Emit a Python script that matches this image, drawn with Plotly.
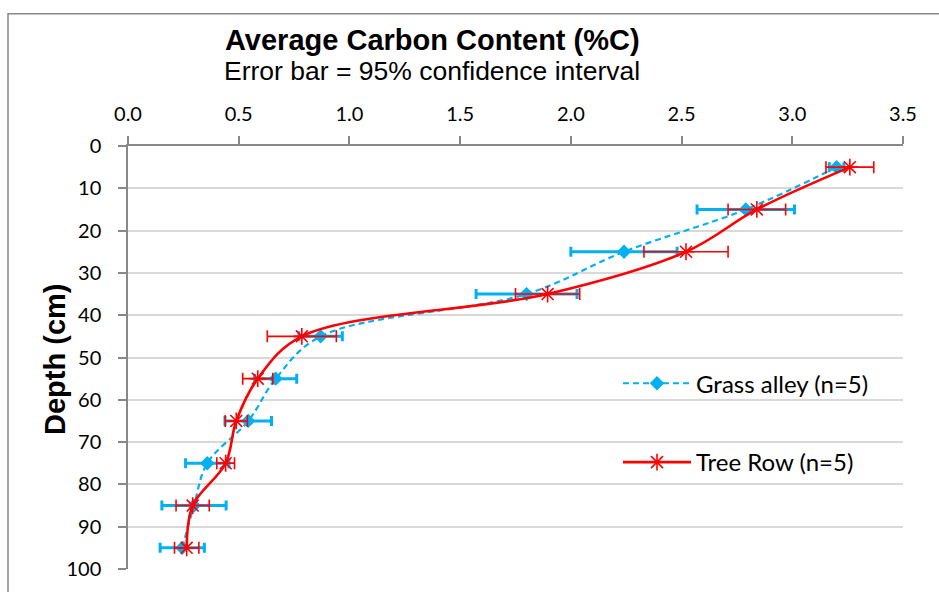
import plotly.graph_objects as go

# Sampling depths (cm, mid-point of each 10 cm layer)
depth = [5, 15, 25, 35, 45, 55, 65, 75, 85, 95]

# Grass alley: mean %C and 95% CI half-width
grass_c = [3.20, 2.79, 2.24, 1.80, 0.87, 0.667, 0.543, 0.358, 0.298, 0.245]
grass_ci = [0.033, 0.22, 0.24, 0.228, 0.098, 0.095, 0.105, 0.098, 0.145, 0.10]

# Tree row: mean %C and 95% CI half-width
tree_c = [3.26, 2.84, 2.52, 1.895, 0.785, 0.586, 0.489, 0.441, 0.292, 0.265]
tree_ci = [0.108, 0.13, 0.19, 0.145, 0.156, 0.068, 0.05, 0.04, 0.075, 0.055]

x_ticks = [0.0, 0.5, 1.0, 1.5, 2.0, 2.5, 3.0, 3.5]
y_ticks = list(range(0, 101, 10))

BLUE = "#00B0F0"
RED = "#FF0000"
GRID = "#D9D9D9"
AXIS = "#888888"
SANS = "Liberation Sans, Arial, sans-serif"
BODY = "Lato, Carlito, sans-serif"

# plot-area geometry in pixels, used to place the free-floating text
L, R, T, B = 128, 903, 146, 575
W, H = R - L, B - T


def px(xp):
    return (xp - L) / W


def py(yp):
    return (B - yp) / H


fig = go.Figure()

fig.add_trace(go.Scatter(
    x=grass_c, y=depth, name="Grass alley (n=5)",
    mode="lines+markers",
    line=dict(color=BLUE, width=2.2, dash="6px,4px", shape="spline", smoothing=1.0),
    marker=dict(symbol="diamond", size=11, color=BLUE),
    error_x=dict(type="data", array=grass_ci, color=BLUE, thickness=3, width=5),
    legend="legend",
))

fig.add_trace(go.Scatter(
    x=tree_c, y=depth, name="Tree Row (n=5)",
    mode="lines+markers",
    line=dict(color=RED, width=2.6, shape="spline", smoothing=1.0),
    marker=dict(symbol="asterisk-open", size=14, color=RED,
                line=dict(color=RED, width=1.6)),
    error_x=dict(type="data", array=tree_ci, color=RED, thickness=1.6, width=6),
    legend="legend2",
))

tick_font = dict(family=BODY, size=20, color="#000000")
legend_font = dict(family=BODY, size=24, color="#000000")

fig.update_layout(
    width=939, height=592,
    margin=dict(l=L, r=939 - R, t=T, b=592 - B),
    paper_bgcolor="white", plot_bgcolor="white",
    showlegend=True,
    xaxis=dict(
        side="top", range=[0, 3.5], tickvals=x_ticks, tickformat=".1f",
        showgrid=False, zeroline=False,
        showline=True, linecolor=AXIS, linewidth=1.5,
        ticks="outside", ticklen=8, tickcolor=AXIS, tickwidth=1.5,
        ticklabelstandoff=7,
        tickfont=tick_font,
    ),
    yaxis=dict(
        range=[100, 0], tickvals=y_ticks,
        showgrid=True, gridcolor=GRID, gridwidth=1.5, zeroline=False,
        showline=True, linecolor=AXIS, linewidth=1.5,
        ticks="outside", ticklen=8, tickcolor=AXIS, tickwidth=1.5,
        ticklabelstandoff=13,
        tickfont=tick_font,
    ),
    legend=dict(
        x=px(618), y=py(387), xanchor="left", yanchor="middle",
        itemwidth=68,
        bgcolor="rgba(0,0,0,0)", borderwidth=0,
        font=legend_font,
    ),
    legend2=dict(
        x=px(618), y=py(467), xanchor="left", yanchor="middle",
        itemwidth=68,
        bgcolor="rgba(0,0,0,0)", borderwidth=0,
        font=legend_font,
    ),
    annotations=[
        dict(text="<b>Average Carbon Content (%C)</b>", xref="paper", yref="paper",
             x=px(432), y=py(38), xanchor="center", yanchor="middle",
             showarrow=False,
             font=dict(family=SANS, size=29, color="#000000")),
        dict(text="Error bar = 95% confidence interval", xref="paper", yref="paper",
             x=px(432), y=py(70), xanchor="center", yanchor="middle",
             showarrow=False,
             font=dict(family=SANS, size=26.5, color="#000000")),
        dict(text="<b>Depth (cm)</b>", xref="paper", yref="paper",
             x=px(55), y=py(363), xanchor="center", yanchor="middle",
             textangle=-90, showarrow=False,
             font=dict(family=SANS, size=29, color="#000000")),
    ],
    shapes=[
        dict(type="rect", xref="paper", yref="paper",
             x0=px(8), x1=px(945), y0=py(600), y1=py(12),
             line=dict(color=AXIS, width=1.5), fillcolor="rgba(0,0,0,0)", layer="below"),
    ],
)

fig.write_html("out.html")
